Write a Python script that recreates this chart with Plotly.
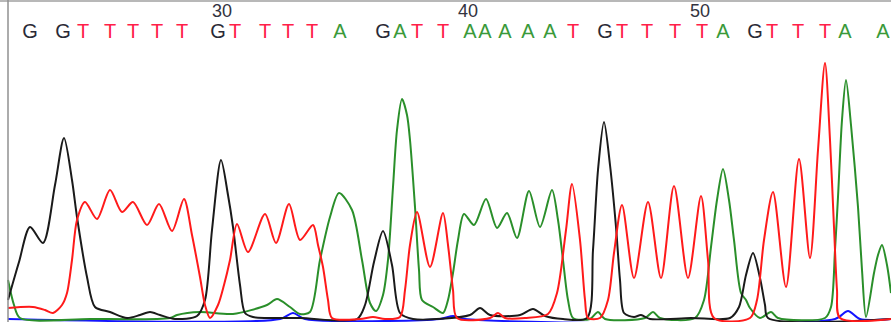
import plotly.graph_objects as go

# ---- trace data: scan position (x) and signal height (y) ----
g_x = [8, 19, 30, 43, 55, 64, 72, 77, 87, 95, 110, 127, 140, 150, 160, 175, 197, 205, 212, 221, 228, 233, 240, 245, 253, 267, 300, 357, 365, 374, 383, 392, 400, 413, 470, 480, 490, 520, 533, 545, 563, 587, 593, 598, 604, 610, 616, 620, 624, 634, 641, 650, 691, 730, 739, 746, 753, 760, 765, 768, 891]
g_y = [20, 58, 93, 77, 135, 182, 140, 103, 43, 13, 8, 2, 5, 8, 5, 1, 4, 20, 90, 160, 125, 93, 35, 7, 3, 2, 2, 1, 15, 58, 89, 55, 7, 1, 5, 12, 5, 5, 11, 4, 1, 2, 70, 150, 198, 155, 93, 40, 7, 3, 5, 1, 2, 2, 13, 45, 67, 42, 15, 2, 1]

t_x = [8, 33, 45, 53, 62, 67, 72, 77, 85, 97, 110, 122, 133, 147, 159, 172, 184, 192, 200, 205, 210, 218, 224, 230, 237, 248, 265, 276, 289, 300, 313, 318, 323, 328, 332, 360, 373, 385, 400, 405, 410, 417, 430, 443, 448, 453, 457, 490, 498, 505, 525, 548, 557, 566, 572, 580, 585, 588, 600, 608, 614, 622, 634, 648, 661, 674, 688, 701, 708, 714, 750, 757, 764, 773, 786, 799, 810, 818, 825, 830, 834, 837, 840, 891]
t_y = [12, 13, 10, 7, 15, 27, 60, 100, 118, 101, 130, 108, 118, 95, 116, 89, 121, 85, 43, 15, 2, 15, 35, 60, 96, 68, 106, 77, 116, 80, 95, 75, 53, 20, 2, 1, 3, 1, 3, 30, 75, 108, 53, 107, 75, 30, 2, 2, 7, 2, 2, 6, 27, 90, 136, 80, 20, 2, 2, 20, 67, 115, 42, 118, 42, 134, 42, 124, 60, 2, 2, 20, 80, 128, 33, 161, 62, 170, 257, 180, 93, 30, 2, 1]

a_x = [8, 14, 20, 90, 170, 177, 200, 233, 267, 277, 290, 300, 310, 320, 330, 339, 352, 362, 370, 376, 383, 388, 393, 397, 402, 407, 410, 415, 419, 422, 433, 443, 448, 453, 458, 464, 474, 486, 497, 507, 517, 529, 540, 552, 558, 563, 568, 573, 590, 598, 605, 645, 653, 660, 695, 704, 711, 717, 723, 729, 734, 741, 746, 750, 760, 771, 778, 825, 831, 835, 838, 842, 846, 851, 858, 862, 866, 874, 878, 882, 887, 891]
a_y = [40, 15, 2, 1, 2, 5, 8, 6, 15, 21, 13, 6, 8, 60, 103, 127, 110, 60, 17, 9, 25, 60, 133, 190, 221, 205, 180, 113, 50, 20, 13, 7, 20, 47, 80, 106, 95, 121, 92, 107, 82, 129, 93, 130, 100, 60, 20, 2, 1, 8, 1, 2, 8, 2, 2, 20, 73, 120, 151, 120, 80, 27, 20, 12, 2, 8, 2, 2, 13, 70, 123, 200, 240, 195, 113, 50, 3, 47, 65, 75, 55, 27]

c_x = [8, 280, 293, 305, 440, 453, 465, 835, 848, 860, 891]
c_y = [1, 1, 7, 1, 1, 4, 1, 1, 9, 1, 1]

# ---- base calls and position labels ----
base_letters = list("GGTTTTTGTTTTAGATTAAAAATGTTTTAGTTTAA")
base_pos = [30, 63, 83, 110, 133, 157, 182, 218, 235, 265, 288, 312, 340, 383, 400, 417, 443,
            470, 485, 505, 528, 550, 573, 605, 622, 647, 675, 702, 723, 755, 772, 798, 825, 845, 883]
number_labels = ["30", "40", "50"]
number_pos = [222, 468, 700]

trace_colors = {"A": "#2a8f2a", "C": "#1414ff", "G": "#1a1a1a", "T": "#ff1a1a"}
letter_colors = {"A": "#3a9a3a", "C": "#2030ff", "G": "#2a2a36", "T": "#ff2048"}

fig = go.Figure()
for name, xs, ys in [("C", c_x, c_y), ("A", a_x, a_y), ("G", g_x, g_y), ("T", t_x, t_y)]:
    fig.add_trace(go.Scatter(x=xs, y=ys, mode="lines", name=name,
                             line=dict(color=trace_colors[name], width=2, shape="spline", smoothing=0.8),
                             hoverinfo="skip"))

fig.add_trace(go.Scatter(x=base_pos, y=[287] * len(base_pos), mode="text", text=base_letters,
                         textfont=dict(family="Liberation Sans, Arial, sans-serif", size=20,
                                       color=[letter_colors[b] for b in base_letters]),
                         hoverinfo="skip", cliponaxis=False))
fig.add_trace(go.Scatter(x=number_pos, y=[308] * len(number_pos), mode="text", text=number_labels,
                         textfont=dict(family="Liberation Sans, Arial, sans-serif", size=18, color="#333340"),
                         hoverinfo="skip", cliponaxis=False))

fig.update_layout(
    width=891, height=328,
    margin=dict(l=0, r=0, t=0, b=6),
    paper_bgcolor="white", plot_bgcolor="white",
    showlegend=False,
    xaxis=dict(range=[0, 891], visible=False, fixedrange=True),
    yaxis=dict(range=[-2, 320], visible=False, fixedrange=True),
    shapes=[
        dict(type="line", xref="paper", yref="paper", x0=0, x1=1, y0=0.997, y1=0.997,
             line=dict(color="#a0a0a0", width=1.5)),
        dict(type="line", xref="x", yref="paper", x0=8, x1=8, y0=0, y1=1,
             line=dict(color="#909090", width=1.5)),
    ],
)

fig.write_html("out.html")
